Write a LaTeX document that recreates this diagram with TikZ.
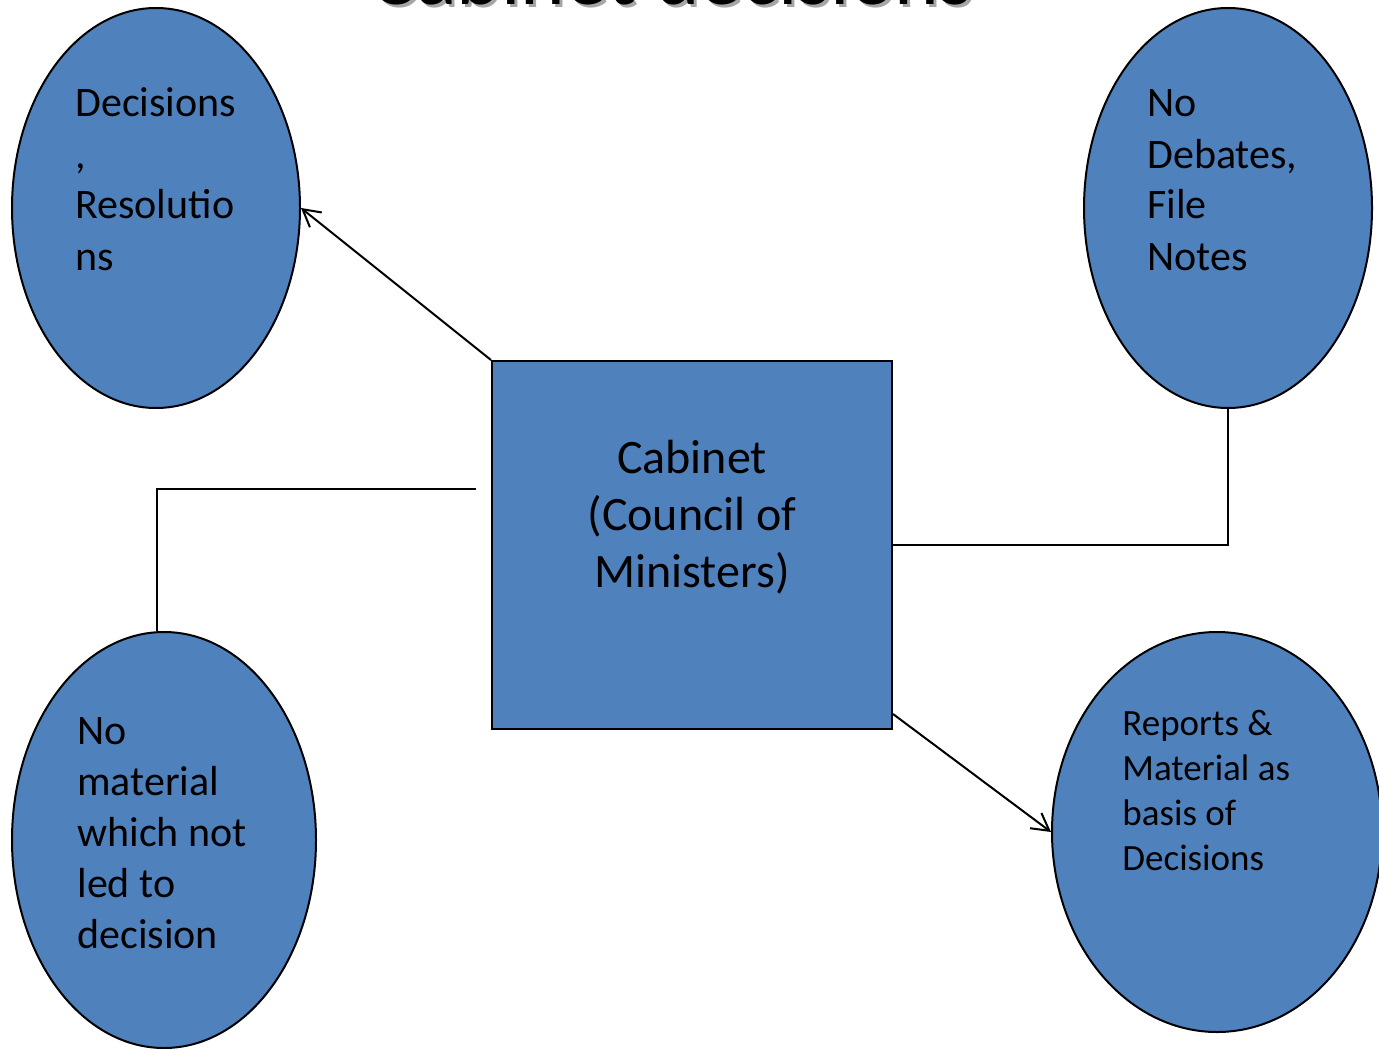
\documentclass[tikz,border=0pt]{standalone}
\usepackage{fontspec}
\setmainfont{Carlito}
\usetikzlibrary{arrows.meta,positioning,shapes.geometric,calc}
\definecolor{cabblue}{RGB}{79,129,189}
\tikzset{
  cab/bubble/.style={draw, ellipse, fill=cabblue, line width=1pt, inner sep=0pt},
  cab/box/.style={draw, rectangle, fill=cabblue, line width=1pt, inner sep=0pt, minimum width=200pt, minimum height=184pt},
  cab/label/.style={align=left, inner sep=0pt, anchor=base west, font=\fontsize{21}{25.5}\selectfont},
  cab/line/.style={line width=1pt},
  cab/arrow/.style={cab/line, -{Straight Barb[length=8.5pt, width=9.5pt]}},
  cab/title/.style={inner sep=0pt, anchor=base, font=\fontsize{42.5}{50}\selectfont}
}

\begin{document}
\begin{tikzpicture}[x=0.5pt, y=-0.5pt]
  \useasboundingbox (0,0) rectangle (1379,1048);

  % heading, cut off by the page edge
  \node[cab/title, text=black!35] (titleshadow) at (675,8) {Cabinet decisions};
  \node[cab/title] (title) at (672,5) {Cabinet decisions};

  \node[cab/bubble, minimum width=144pt, minimum height=200pt] (dec) at (156,208) {};
  \node[cab/bubble, minimum width=144pt, minimum height=200pt] (deb) at (1228,208) {};
  \node[cab/bubble, minimum width=152pt, minimum height=208pt] (nomat) at (164,840) {};
  \node[cab/bubble, minimum width=165pt, minimum height=200pt] (rep) at (1217,832) {};
  \node[cab/box] (cab) at (692,545) {};

  % base anchor sits on the last line
  \node[cab/label] (dectxt) at (75,270) {Decisions\\,\\Resolutio\\ns};
  \node[cab/label] (debtxt) at (1147,270) {No\\Debates,\\File\\Notes};
  \node[cab/label] (nomattxt) at (77,948) {No\\material\\which not\\led to\\decision};
  \node[cab/label, font=\fontsize{18.5}{22.5}\selectfont] (reptxt) at (1122,870) {Reports \&\\Material as\\basis of\\Decisions};
  \node[cab/label, align=center, anchor=base, font=\fontsize{24}{28.5}\selectfont] (cabtxt) at (692,587) {Cabinet\\(Council of\\Ministers)};

  \coordinate (nmend) at (476,489);
  \coordinate (nmturn) at (157,489);

  \draw[cab/arrow] (cab.north west) -- (dec.east);
  \draw[cab/line] (cab.east) -- (cab.east -| deb.south) -- (deb.south);
  \draw[cab/line] (nmend) -- (nmturn) -- (nmturn |- nomat.north);
  \draw[cab/arrow] ($(cab.south east)+(0,-16)$) -- (rep.west);
\end{tikzpicture}
\end{document}
